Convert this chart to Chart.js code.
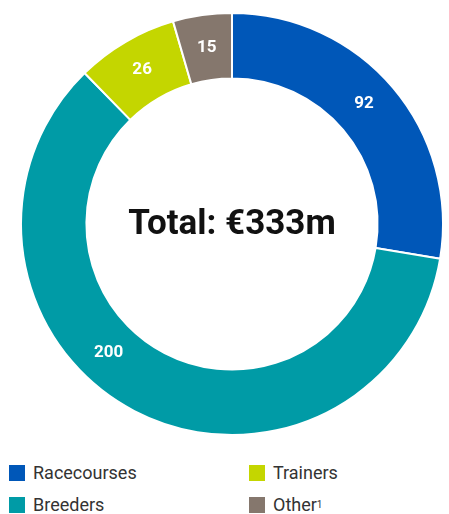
<!DOCTYPE html>
<html>
<head>
<meta charset="utf-8">
<script src="https://cdn.jsdelivr.net/npm/chart.js@4"></script>
<style>
  body { margin: 0; background: #fff; font-family: Roboto, sans-serif; }
  #wrap { position: relative; width: 449px; height: 450px; }
  #legend { position: relative; width: 449px; height: 64px; }
  .item { position: absolute; display: flex; align-items: center; font-size: 18px; color: #333; }
  .sw { width: 16px; height: 16px; margin-right: 8px; }
  sup { font-size: 10px; vertical-align: 7px; }
</style>
</head>
<body>
<div id="wrap"><canvas id="chart"></canvas></div>
<div id="legend"></div>
<script>
const categories = ["Racecourses", "Breeders", "Trainers", "Other"];
const values = [92, 200, 26, 15];
const colours = ["#0057B8", "#009BA6", "#C4D600", "#85776D"];
const totalLabel = "Total: €333m";
// where along each slice its label sits (0 = start, 1 = end)
const labelAt = [0.48, 0.575, 0.5, 0.5];

// legend, two columns
const legendPos = [[9, 465], [9, 497], [249, 465], [249, 497]];
const legend = document.getElementById("legend");
categories.forEach((c, i) => {
  const div = document.createElement("div");
  div.className = "item";
  div.style.left = legendPos[i][0] + "px";
  div.style.top = (legendPos[i][1] - 450 - 3) + "px";
  div.innerHTML = `<span class="sw" style="background:${colours[i]}"></span>${c}${c === "Other" ? "<sup>1</sup>" : ""}`;
  legend.appendChild(div);
});

// labels on the slices and the total in the middle
const labelsPlugin = {
  id: "labels",
  afterDraw(chart) {
    const ctx = chart.ctx;
    const meta = chart.getDatasetMeta(0);
    ctx.save();
    ctx.textAlign = "center";
    ctx.textBaseline = "middle";
    ctx.fillStyle = "#fff";
    ctx.font = "bold 17px Roboto";
    meta.data.forEach((arc, i) => {
      const a = arc.startAngle + (arc.endAngle - arc.startAngle) * labelAt[i];
      const r = (arc.innerRadius + arc.outerRadius) / 2;
      ctx.fillText(values[i], arc.x + Math.cos(a) * r, arc.y + Math.sin(a) * r);
    });
    const ca = chart.chartArea;
    ctx.fillStyle = "#111";
    ctx.font = "bold 35px Roboto";
    ctx.fillText(totalLabel, (ca.left + ca.right) / 2, (ca.top + ca.bottom) / 2 + 1);
    ctx.restore();
  }
};

new Chart(document.getElementById("chart"), {
  type: "doughnut",
  data: {
    labels: categories,
    datasets: [{
      data: values,
      backgroundColor: colours,
      borderColor: "#fff",
      borderWidth: 2,
      hoverOffset: 0
    }]
  },
  options: {
    responsive: true,
    maintainAspectRatio: false,
    animation: false,
    cutout: "69%",
    layout: { padding: { left: 20, right: 5, top: 12, bottom: 14 } },
    plugins: { legend: { display: false }, tooltip: { enabled: false } }
  },
  plugins: [labelsPlugin]
});
</script>
</body>
</html>
